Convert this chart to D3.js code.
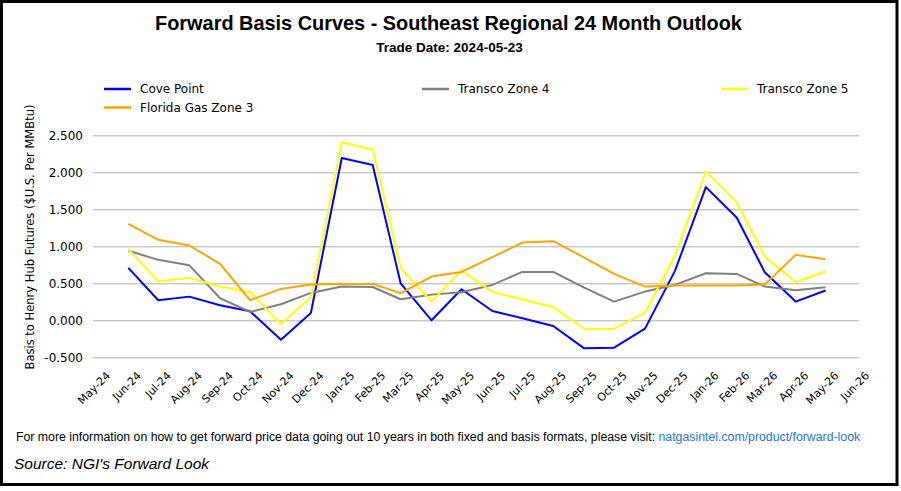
<!DOCTYPE html>
<html>
<head>
<meta charset="utf-8">
<script src="https://cdn.jsdelivr.net/npm/d3@7"></script>
<style>
  body { margin: 0; background: #fff; }
  svg { display: block; }
</style>
</head>
<body>
<div id="chart"></div>
<script>
// months with data: Jun-24 .. May-26
const months = ["2024-06", "2024-07", "2024-08", "2024-09", "2024-10", "2024-11", "2024-12",
  "2025-01", "2025-02", "2025-03", "2025-04", "2025-05", "2025-06", "2025-07", "2025-08",
  "2025-09", "2025-10", "2025-11", "2025-12", "2026-01", "2026-02", "2026-03", "2026-04", "2026-05"];

const covePoint = [0.708, 0.271, 0.320, 0.203, 0.122, -0.262, 0.099, 2.193, 2.098, 0.500, 0.000, 0.420,
  0.126, 0.027, -0.077, -0.379, -0.370, -0.113, 0.668, 1.800, 1.385, 0.650, 0.253, 0.402];
const transcoZ4 = [0.939, 0.817, 0.745, 0.298, 0.113, 0.217, 0.370, 0.456, 0.450, 0.284, 0.347, 0.379,
  0.478, 0.654, 0.654, 0.442, 0.253, 0.388, 0.478, 0.636, 0.627, 0.456, 0.406, 0.447];
const transcoZ5 = [0.961, 0.528, 0.573, 0.456, 0.379, -0.050, 0.311, 2.405, 2.306, 0.704, 0.253, 0.672,
  0.384, 0.280, 0.181, -0.117, -0.113, 0.104, 0.875, 2.013, 1.593, 0.862, 0.514, 0.659];
const floridaZ3 = [1.304, 1.088, 1.011, 0.763, 0.271, 0.424, 0.483, 0.492, 0.492, 0.366, 0.591, 0.654,
  0.853, 1.051, 1.069, 0.848, 0.627, 0.456, 0.469, 0.469, 0.469, 0.483, 0.884, 0.826];

const seriesNames = ["Cove Point", "Transco Zone 4", "Transco Zone 5", "Florida Gas Zone 3"];
const seriesValues = [covePoint, transcoZ4, transcoZ5, floridaZ3];
const seriesColors = ["#0000ff", "#808080", "#ffff00", "#ffa500"];

const yTicks = [-0.5, 0, 0.5, 1, 1.5, 2, 2.5];

const W = 901, H = 491;
const parse = d3.timeParse("%Y-%m");

const svg = d3.select("#chart").append("svg")
  .attr("width", W).attr("height", H);

// frame
svg.append("rect")
  .attr("x", 1.5).attr("y", 1.5)
  .attr("width", 895.5).attr("height", 483)
  .attr("fill", "#fff").attr("stroke", "#000").attr("stroke-width", 3);

svg.append("text")
  .attr("x", 448.5).attr("y", 30)
  .attr("text-anchor", "middle")
  .attr("font-family", "Liberation Sans, Arial, sans-serif")
  .attr("font-weight", "bold").attr("font-size", 19.9)
  .text("Forward Basis Curves - Southeast Regional 24 Month Outlook");

svg.append("text")
  .attr("x", 449.5).attr("y", 52)
  .attr("text-anchor", "middle")
  .attr("font-family", "Liberation Sans, Arial, sans-serif")
  .attr("font-weight", "bold").attr("font-size", 13.5)
  .text("Trade Date: 2024-05-23");

const x = d3.scaleTime()
  .domain([parse("2024-05"), parse("2026-06")])
  .range([97.4, 856.5]);
const y = d3.scaleLinear()
  .domain([-0.5, 2.5])
  .range([357.3, 135.3]);

// grid + y labels
const yAxis = svg.append("g")
  .attr("transform", "translate(93,0)")
  .call(d3.axisLeft(y).tickValues(yTicks).tickSize(-766).tickFormat(d => d.toFixed(3)).tickPadding(10));
yAxis.select(".domain").remove();
yAxis.selectAll(".tick line").attr("stroke", "#b0b0b0").attr("stroke-width", 1);
yAxis.selectAll(".tick text")
  .attr("font-family", "DejaVu Sans, sans-serif").attr("font-size", 12).attr("fill", "#000");

// x labels
const xAxis = svg.append("g")
  .attr("transform", "translate(0,357.3)")
  .call(d3.axisBottom(x).ticks(d3.timeMonth.every(1)).tickSize(0).tickFormat(d3.timeFormat("%b-%y")));
xAxis.select(".domain").remove();
xAxis.selectAll(".tick text")
  .attr("font-family", "DejaVu Sans, sans-serif").attr("font-size", 11).attr("fill", "#000")
  .attr("text-anchor", "end")
  .attr("transform", "translate(13,19) rotate(-45)")
  .attr("dy", 0).attr("y", 0).attr("x", 0);

svg.append("text")
  .attr("transform", "translate(34,237) rotate(-90)")
  .attr("text-anchor", "middle")
  .attr("font-family", "DejaVu Sans, sans-serif").attr("font-size", 11.5)
  .text("Basis to Henry Hub Futures ($U.S. Per MMBtu)");

// lines
const line = d3.line()
  .x((d, i) => x(parse(months[i])))
  .y(d => y(d));

svg.append("g").selectAll("path")
  .data(seriesValues)
  .join("path")
  .attr("d", d => line(d))
  .attr("fill", "none")
  .attr("stroke", (d, i) => seriesColors[i])
  .attr("stroke-width", 2)
  .attr("stroke-linejoin", "round");

// legend
const legendPos = [[104, 89], [422, 89], [721, 89], [104, 107.5]];
const legend = svg.append("g").selectAll("g")
  .data(seriesNames)
  .join("g")
  .attr("transform", (d, i) => `translate(${legendPos[i][0]},${legendPos[i][1]})`);
legend.append("line")
  .attr("x1", 0).attr("x2", 27)
  .attr("stroke", (d, i) => seriesColors[i]).attr("stroke-width", 2.5);
legend.append("text")
  .attr("x", 36).attr("dy", "0.35em")
  .attr("font-family", "DejaVu Sans, sans-serif").attr("font-size", 12)
  .text(d => d);

// footer
const foot = svg.append("text")
  .attr("x", 16).attr("y", 441)
  .attr("font-family", "Liberation Sans, Arial, sans-serif").attr("font-size", 12.3);
foot.append("tspan").attr("fill", "#000")
  .text("For more information on how to get forward price data going out 10 years in both fixed and basis formats, please visit: ");
foot.append("tspan").attr("fill", "#1f77d0")
  .text("natgasintel.com/product/forward-look");

svg.append("text")
  .attr("x", 14).attr("y", 469)
  .attr("font-family", "Liberation Sans, Arial, sans-serif").attr("font-size", 15.5)
  .attr("font-style", "italic")
  .text("Source: NGI's Forward Look");
</script>
</body>
</html>
